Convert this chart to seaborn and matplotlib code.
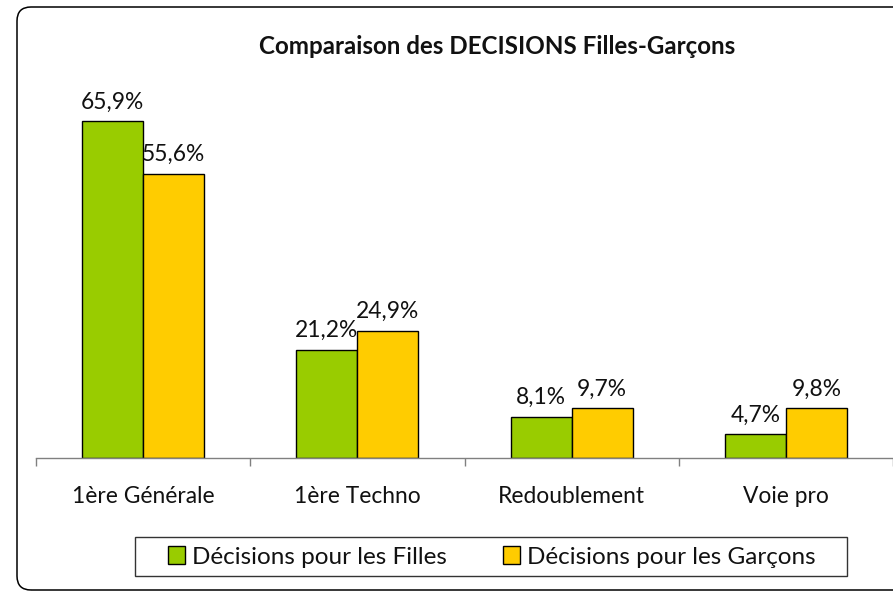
import matplotlib
matplotlib.use("Agg")
import matplotlib.pyplot as plt
import seaborn as sns
import pandas as pd
from matplotlib.patches import FancyBboxPatch, Patch, Rectangle
from matplotlib.ticker import FixedLocator

categories = ["1ère Générale", "1ère Techno", "Redoublement", "Voie pro"]
filles = [65.9, 21.2, 8.1, 4.7]
garcons = [55.6, 24.9, 9.7, 9.8]
series_names = ["Décisions pour les Filles", "Décisions pour les Garçons"]
colors = ["#99CC00", "#FFCC00"]
title = "Comparaison des DECISIONS Filles-Garçons"

df = pd.DataFrame({
    "cat": categories * 2,
    "val": filles + garcons,
    "serie": [series_names[0]] * 4 + [series_names[1]] * 4,
})

sns.set_theme(style="white")
plt.rcParams["font.family"] = ["Lato", "DejaVu Sans"]

fig = plt.figure(figsize=(8.93, 5.92), dpi=100)
ax = fig.add_axes([36 / 893, 1 - 458 / 592, 857 / 893, 358 / 592])

sns.barplot(data=df, x="cat", y="val", hue="serie", order=categories,
            hue_order=series_names, palette=colors, width=0.57,
            saturation=1, edgecolor="black", linewidth=1, ax=ax,
            legend=False, gap=0)

for cont in ax.containers:
    labels = [f"{b.get_height():.1f}%".replace(".", ",") for b in cont]
    ax.bar_label(cont, labels=labels, padding=6, fontsize=16.4, color="#111111")

ax.set_xlim(-0.5, 3.5)
ax.set_ylim(0, 70)
ax.set_xlabel("")
ax.set_ylabel("")
ax.set_yticks([])
for s in ["top", "right", "left"]:
    ax.spines[s].set_visible(False)
ax.spines["bottom"].set_color("#808080")
ax.spines["bottom"].set_linewidth(1)
ax.tick_params(axis="x", which="major", length=0, pad=20, labelsize=16.4,
               labelcolor="#111111")
ax.xaxis.set_minor_locator(FixedLocator([-0.5, 0.5, 1.5, 2.5, 3.5]))
ax.tick_params(axis="x", which="minor", length=6, width=1, color="#808080",
               bottom=True)

fig.text(497 / 893, 1 - 47 / 592, title, ha="center", va="center",
         fontsize=17.4, fontweight="bold", color="#111111")

handles = [Patch(facecolor=c, edgecolor="black", linewidth=1) for c in colors]
leg = fig.legend(handles, series_names, loc="center",
                 bbox_to_anchor=(492 / 893, 1 - 557 / 592), ncol=2,
                 fontsize=17.5, frameon=False,
                 handlelength=0.7, handleheight=0.7, handletextpad=0.3,
                 columnspacing=2.3, borderpad=0.3)
for t in leg.get_texts():
    t.set_color("#111111")

# legend box
fig.patches.append(Rectangle((1.35, (592 - 576) / 100), 7.12, 0.39,
                             transform=fig.dpi_scale_trans, facecolor="none",
                             edgecolor="#333333", linewidth=1))

frame = FancyBboxPatch((0.17, 0.02), 9.0, 5.83,
                       boxstyle="round,pad=0,rounding_size=0.14",
                       transform=fig.dpi_scale_trans, facecolor="none",
                       edgecolor="black", linewidth=1.1, clip_on=False)
fig.patches.append(frame)

fig.savefig("out.png", dpi=100)
